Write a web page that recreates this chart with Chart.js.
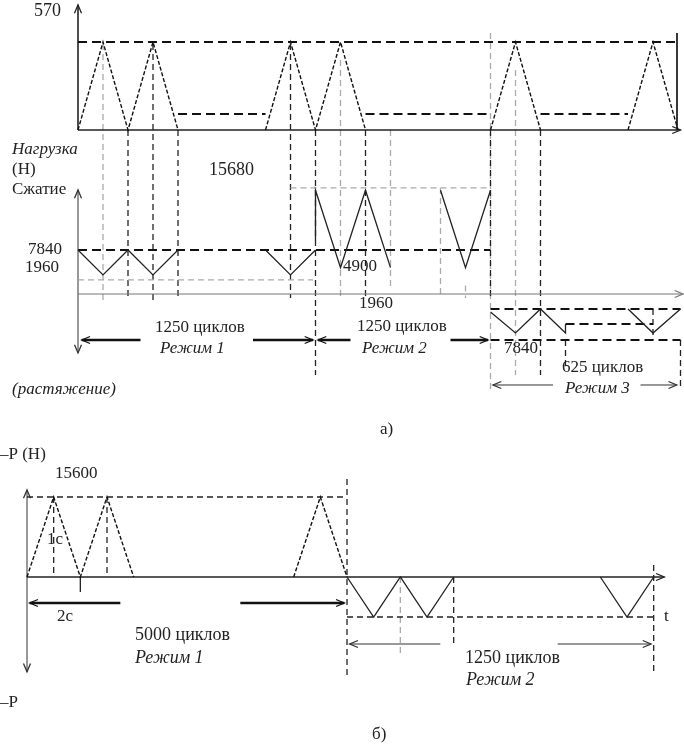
<!DOCTYPE html>
<html>
<head>
<meta charset="utf-8">
<script src="https://cdn.jsdelivr.net/npm/chart.js@4.4.0/dist/chart.umd.min.js"></script>
<style>
html, body { margin: 0; padding: 0; background: #fff; }
#wrap { width: 684px; height: 748px; }
</style>
</head>
<body>
<div id="wrap"><canvas id="loadChart" width="684" height="748"></canvas></div>
<script>
// ---- figure а) : time in s, force in N (compression +, tension -)
// upper panel (load program)
const topT1 = [0, 1, 2, 3, 4];
const topP1 = [0, 15680, 0, 15680, 0];
const topT2 = [7.5, 8.5, 9.5, 10.5, 11.5];
const topP2 = [0, 15680, 0, 15680, 0];
const topT3 = [16.5, 17.5, 18.5];
const topP3 = [0, 15680, 0];
const topT4 = [22, 23, 24];
const topP4 = [0, 15680, 0];
const topDwell = [[4, 7.5], [11.5, 16.5], [18.5, 22]];
const topDwellP = 2850;
const topMax = 15680;

// lower panel, regimes 1..3
const reg1T = [0, 1, 2, 3, 4];
const reg1P = [7840, 3400, 7840, 3400, 7840];
const reg1bT = [7.5, 8.5, 9.5];
const reg1bP = [7840, 3400, 7840];
const reg2T = [9.5, 9.5, 10.5, 11.5, 12.5];
const reg2P = [9600, 18500, 4700, 18500, 4700];
const reg2bT = [14.5, 15.5, 16.5];
const reg2bP = [18500, 4700, 18500];
const reg3T = [16.5, 17.5, 18.5, 19.5, 19.5];
const reg3P = [-3200, -6950, -2670, -6950, -5350];
const reg3bT = [22, 23, 24.1];
const reg3bP = [-2670, -6950, -2670];

// connector lines [t, from, to]
const connA = [[2, 29225, -1070], [3, 44550, -1070], [4, 29225, -1070], [8.5, 44550, -700],
  [9.5, 29225, -14430], [11.5, 29225, -700], [16.5, 29225, -700], [18.5, 29225, -14430],
  [19.5, -8200, -13540], [24.1, -8200, -17100], [23, -2670, -8200]];
const connAGrey = [[1, 44550, -1070], [10.5, 41700, -700], [12.5, 29225, 700], [14.5, 18900, -700],
  [15.5, 1500, -700], [16.5, 46510, -17100], [17.5, 39900, -14430]];

// ---- figure б)
const bT1 = [0, 1, 2, 3, 4];
const bP1 = [0, 15600, 0, 15600, 0];
const bT2 = [10, 11, 12];
const bP2 = [0, 15600, 0];
const bT3 = [12, 13, 14, 15, 16];
const bP3 = [0, -7800, 0, -7800, 0];
const bT4 = [21.5, 22.5, 23.5];
const bP4 = [0, -7800, 0];
const connB = [[1, 15600, 0], [3, 15600, 0], [12, 19100, -19500], [16, 0, -13000], [23.5, 2340, -18500]];
const connBGrey = [[14, 0, -15600]];

const TOP_BASE = 29225; // offset of the upper panel in figure а

function pts(ts, ps, off) {
    return ts.map((t, i) => ({ x: t, y: ps[i] + (off || 0) }));
}
function line(data, fig, style) {
    return Object.assign({
        data: data,
        xAxisID: fig === 'a' ? 'xa' : 'xb',
        yAxisID: fig === 'a' ? 'ya' : 'yb',
        showLine: true,
        pointRadius: 0,
        fill: false,
        tension: 0,
        clip: false,
        borderColor: '#111',
        borderWidth: 1.3
    }, style);
}

const heavyDash = { borderWidth: 2, borderDash: [9, 5], borderColor: '#111' };
const thinDash = { borderWidth: 1.3, borderDash: [6, 4], borderColor: '#222' };
const greyDash = { borderWidth: 1.3, borderDash: [6, 4], borderColor: '#aaa' };
const fineDash = { borderWidth: 1.4, borderDash: [4, 2], borderColor: '#111' };
const solid = { borderWidth: 1.3, borderColor: '#222' };

const datasets = [];

// upper panel а
[[topT1, topP1], [topT2, topP2], [topT3, topP3], [topT4, topP4]].forEach(s => {
    datasets.push(line(pts(s[0], s[1], TOP_BASE), 'a', fineDash));
});
topDwell.forEach(d => {
    datasets.push(line(pts(d, [topDwellP, topDwellP], TOP_BASE), 'a', heavyDash));
});
datasets.push(line(pts([0, 23.96], [topMax, topMax], TOP_BASE), 'a', heavyDash));
datasets.push(line(pts([0, 24.1], [0, 0], TOP_BASE), 'a', Object.assign({}, solid, { borderWidth: 1.6, arrow: 'end' })));
datasets.push(line(pts([0, 0], [0, 22300], TOP_BASE), 'a', Object.assign({}, solid, { borderWidth: 1.6, arrow: 'end' })));
datasets.push(line(pts([23.96, 23.96], [0, 17300], TOP_BASE), 'a', Object.assign({}, solid, { borderWidth: 1.8 })));

// lower panel а
[[reg1T, reg1P], [reg1bT, reg1bP], [reg2T, reg2P], [reg2bT, reg2bP], [reg3T, reg3P], [reg3bT, reg3bP]].forEach(s => {
    datasets.push(line(pts(s[0], s[1]), 'a', solid));
});
datasets.push(line(pts([0, 16.5], [7840, 7840]), 'a', heavyDash));
datasets.push(line(pts([0, 9.4], [2500, 2500]), 'a', greyDash));
datasets.push(line(pts([8.5, 16.5], [18900, 18900]), 'a', greyDash));
datasets.push(line(pts([16.5, 24.1], [-2670, -2670]), 'a', heavyDash));
datasets.push(line(pts([16.5, 24.1], [-8200, -8200]), 'a', heavyDash));
datasets.push(line(pts([19.5, 23], [-5350, -5350]), 'a', heavyDash));
datasets.push(line(pts([0, 24.2], [0, 0]), 'a', { borderWidth: 1, borderColor: '#777', arrow: 'end' }));
datasets.push(line(pts([0, 0], [-10500, 18530]), 'a', { borderWidth: 1, borderColor: '#333', arrow: 'both' }));

connA.forEach(c => datasets.push(line(pts([c[0], c[0]], [c[1], c[2]]), 'a', thinDash)));
connAGrey.forEach(c => datasets.push(line(pts([c[0], c[0]], [c[1], c[2]]), 'a', greyDash)));

// dimension arrows а
const thick = { borderWidth: 2.6, borderColor: '#111' };
const thin = { borderWidth: 1, borderColor: '#333' };
datasets.push(line(pts([0.15, 2.5], [-8200, -8200]), 'a', Object.assign({ arrow: 'start' }, thick)));
datasets.push(line(pts([7.0, 9.4], [-8200, -8200]), 'a', Object.assign({ arrow: 'end' }, thick)));
datasets.push(line(pts([9.6, 10.9], [-8200, -8200]), 'a', Object.assign({ arrow: 'start' }, thick)));
datasets.push(line(pts([14.9, 16.4], [-8200, -8200]), 'a', Object.assign({ arrow: 'end' }, thick)));
datasets.push(line(pts([16.6, 19.0], [-16216, -16216]), 'a', Object.assign({ arrow: 'start' }, thin)));
datasets.push(line(pts([22.5, 23.95], [-16216, -16216]), 'a', Object.assign({ arrow: 'end' }, thin)));

// figure б
datasets.push(line(pts(bT1, bP1), 'b', fineDash));
datasets.push(line(pts(bT2, bP2), 'b', fineDash));
datasets.push(line(pts(bT3, bP3), 'b', solid));
datasets.push(line(pts(bT4, bP4), 'b', solid));
datasets.push(line(pts([0, 12], [15600, 15600]), 'b', thinDash));
datasets.push(line(pts([12, 23.5], [-7800, -7800]), 'b', thinDash));
datasets.push(line(pts([0, 23.9], [0, 0]), 'b', Object.assign({}, solid, { borderWidth: 1.5, arrow: 'end' })));
datasets.push(line(pts([0, 0], [-18500, 16965]), 'b', { borderWidth: 1, borderColor: '#333', arrow: 'both' }));
datasets.push(line(pts([2, 2], [0, -2925]), 'b', solid));
connB.forEach(c => datasets.push(line(pts([c[0], c[0]], [c[1], c[2]]), 'b', thinDash)));
connBGrey.forEach(c => datasets.push(line(pts([c[0], c[0]], [c[1], c[2]]), 'b', greyDash)));
datasets.push(line(pts([0.1, 3.5], [-5070, -5070]), 'b', Object.assign({ arrow: 'start' }, thick)));
datasets.push(line(pts([8.0, 11.9], [-5070, -5070]), 'b', Object.assign({ arrow: 'end' }, thick)));
datasets.push(line(pts([12.1, 15.5], [-13065, -13065]), 'b', Object.assign({ arrow: 'start' }, thin)));
datasets.push(line(pts([19.9, 23.4], [-13065, -13065]), 'b', Object.assign({ arrow: 'end' }, thin)));

// open arrowheads on lines marked with "arrow"
const arrowPlugin = {
    id: 'arrows',
    afterDatasetsDraw(chart) {
        const ctx = chart.ctx;
        chart.data.datasets.forEach(ds => {
            if (!ds.arrow) return;
            const xs = chart.scales[ds.xAxisID], ys = chart.scales[ds.yAxisID];
            const p = ds.data.map(d => [xs.getPixelForValue(d.x), ys.getPixelForValue(d.y)]);
            const ends = ds.arrow === 'both' ? ['start', 'end'] : [ds.arrow];
            ends.forEach(e => {
                const a = e === 'end' ? p[p.length - 2] : p[1];
                const b = e === 'end' ? p[p.length - 1] : p[0];
                const ang = Math.atan2(b[1] - a[1], b[0] - a[0]);
                const len = 9;
                ctx.save();
                ctx.strokeStyle = ds.borderColor;
                ctx.lineWidth = 1.3;
                ctx.setLineDash([]);
                ctx.beginPath();
                ctx.moveTo(b[0] - len * Math.cos(ang - 0.4), b[1] - len * Math.sin(ang - 0.4));
                ctx.lineTo(b[0], b[1]);
                ctx.lineTo(b[0] - len * Math.cos(ang + 0.4), b[1] - len * Math.sin(ang + 0.4));
                ctx.stroke();
                ctx.restore();
            });
        });
    }
};

// text labels of the drawing: text, x, y, italic, size
const labels = [
    ['570', 34, 11, false, 18], ['Нагрузка', 12, 150, true, 17], ['(Н)', 12, 170, false, 17], ['Сжатие', 12, 190, false, 17],
    ['15680', 209, 170, false, 18], ['7840', 28, 250, false, 17], ['1960', 25, 268, false, 17], ['4900', 343, 267, false, 17],
    ['1960', 359, 304, false, 17], ['1250 циклов', 155, 328, false, 17], ['Режим 1', 160, 349, true, 17],
    ['1250 циклов', 357, 327, false, 17], ['Режим 2', 362, 349, true, 17], ['7840', 504, 349, false, 17],
    ['625 циклов', 562, 368, false, 17], ['Режим 3', 565, 389, true, 17], ['(растяжение)', 12, 390, true, 17],
    ['а)', 380, 430, false, 17],
    ['–P (Н)', 0, 455, false, 17], ['15600', 55, 474, false, 17], ['1с', 47, 540, false, 17], ['2с', 57, 617, false, 17],
    ['5000 циклов', 135, 635, false, 18], ['Режим 1', 135, 658, true, 18], ['–P', 0, 703, false, 17],
    ['1250 циклов', 465, 658, false, 18], ['Режим 2', 466, 680, true, 18], ['t', 664, 617, false, 17], ['б)', 372, 735, false, 17]
];
const textPlugin = {
    id: 'texts',
    afterDraw(chart) {
        const ctx = chart.ctx;
        ctx.save();
        ctx.fillStyle = '#222';
        ctx.textBaseline = 'middle';
        labels.forEach(l => {
            ctx.font = (l[3] ? 'italic ' : '') + l[4] + 'px "Liberation Serif", serif';
            ctx.fillText(l[0], l[1], l[2]);
        });
        ctx.restore();
    }
};

new Chart(document.getElementById('loadChart'), {
    type: 'scatter',
    data: { datasets: datasets },
    options: {
        responsive: false,
        animation: false,
        layout: { padding: 0 },
        plugins: { legend: { display: false }, tooltip: { enabled: false } },
        scales: {
            xa: { type: 'linear', display: false, min: -78 / 25, max: (684 - 78) / 25 },
            ya: { type: 'linear', display: false, min: -(748 - 294) * 178.2, max: 294 * 178.2 },
            xb: { type: 'linear', display: false, min: -27 / 26.667, max: (684 - 27) / 26.667 },
            yb: { type: 'linear', display: false, min: -(748 - 577) * 195, max: 577 * 195 }
        }
    },
    plugins: [arrowPlugin, textPlugin]
});
</script>
</body>
</html>
